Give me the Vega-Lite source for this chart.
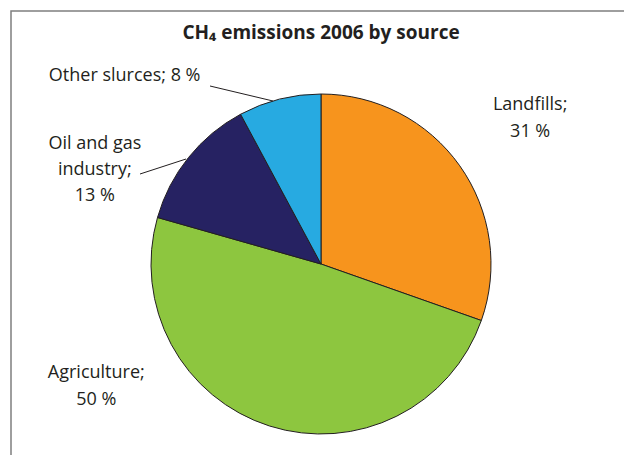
{
  "$schema": "https://vega.github.io/schema/vega-lite/v6.json",
  "autosize": "none",
  "padding": {"left": 11, "top": 11, "right": 0, "bottom": 0},
  "width": 620,
  "height": 506,
  "background": "white",
  "config": {
    "view": {"stroke": "#7f7f7f", "strokeWidth": 1.5},
    "font": "Open Sans"
  },
  "data": {
    "values": [
      {"source": "Landfills", "value": 31, "order": 1, "label": "Landfills;\n31 %"},
      {"source": "Agriculture", "value": 50, "order": 2, "label": "Agriculture;\n50 %"},
      {"source": "Oil and gas industry", "value": 13, "order": 3, "label": "Oil and gas\nindustry;\n13 %"},
      {"source": "Other slurces", "value": 8, "order": 4, "label": "Other slurces; 8 %"}
    ]
  },
  "layer": [
    {
      "mark": {"type": "arc", "outerRadius": 170, "stroke": "#231f20", "strokeWidth": 1},
      "encoding": {
        "theta": {"field": "value", "type": "quantitative", "stack": true},
        "order": {"field": "order", "type": "quantitative"},
        "color": {
          "field": "source",
          "type": "nominal",
          "scale": {
            "domain": ["Landfills", "Agriculture", "Oil and gas industry", "Other slurces"],
            "range": ["#f7941d", "#8dc63f", "#262262", "#27aae1"]
          },
          "legend": null
        }
      }
    },
    {
      "data": {"values": [{"title": "CH₄ emissions 2006 by source"}]},
      "mark": {"type": "text", "fontSize": 19, "fontWeight": "bold", "color": "#231f20", "align": "center", "baseline": "middle"},
      "encoding": {
        "theta": {"value": 0},
        "radius": {"value": 231},
        "text": {"field": "title"}
      }
    },
    {
      "mark": {"type": "text", "radius": 255, "thetaOffset": 0.007, "dy": -13.5, "fontSize": 18, "color": "#231f20", "lineBreak": "\n", "lineHeight": 27, "align": "center", "baseline": "middle"},
      "encoding": {
        "theta": {"field": "value", "type": "quantitative", "stack": true},
        "order": {"field": "order", "type": "quantitative"},
        "text": {"condition": {"test": "datum.source === 'Landfills'", "field": "label"}, "value": ""}
      }
    },
    {
      "mark": {"type": "text", "radius": 256, "thetaOffset": 0.763, "dy": -13.5, "fontSize": 18, "color": "#231f20", "lineBreak": "\n", "lineHeight": 27, "align": "center", "baseline": "middle"},
      "encoding": {
        "theta": {"field": "value", "type": "quantitative", "stack": true},
        "order": {"field": "order", "type": "quantitative"},
        "text": {"condition": {"test": "datum.source === 'Agriculture'", "field": "label"}, "value": ""}
      }
    },
    {
      "mark": {"type": "text", "radius": 245, "thetaOffset": -0.283, "dy": -26, "fontSize": 18, "color": "#231f20", "lineBreak": "\n", "lineHeight": 26, "align": "center", "baseline": "middle"},
      "encoding": {
        "theta": {"field": "value", "type": "quantitative", "stack": true},
        "order": {"field": "order", "type": "quantitative"},
        "text": {"condition": {"test": "datum.source === 'Oil and gas industry'", "field": "label"}, "value": ""}
      }
    },
    {
      "mark": {"type": "text", "radius": 272, "thetaOffset": -0.56, "fontSize": 18, "color": "#231f20", "lineBreak": "\n", "align": "center", "baseline": "middle"},
      "encoding": {
        "theta": {"field": "value", "type": "quantitative", "stack": true},
        "order": {"field": "order", "type": "quantitative"},
        "text": {"condition": {"test": "datum.source === 'Other slurces'", "field": "label"}, "value": ""}
      }
    },
    {
      "data": {"values": [{}]},
      "mark": {"type": "rule", "color": "#231f20", "strokeWidth": 1},
      "encoding": {
        "x": {"datum": -111, "type": "quantitative", "scale": {"domain": [-310, 310], "nice": false, "zero": false}, "axis": null},
        "y": {"datum": 178, "type": "quantitative", "scale": {"domain": [-253, 253], "nice": false, "zero": false}, "axis": null},
        "x2": {"datum": -48},
        "y2": {"datum": 163}
      }
    },
    {
      "data": {"values": [{}]},
      "mark": {"type": "rule", "color": "#231f20", "strokeWidth": 1},
      "encoding": {
        "x": {"datum": -181, "type": "quantitative", "axis": null},
        "y": {"datum": 90, "type": "quantitative", "axis": null},
        "x2": {"datum": -135},
        "y2": {"datum": 105}
      }
    }
  ]
}
